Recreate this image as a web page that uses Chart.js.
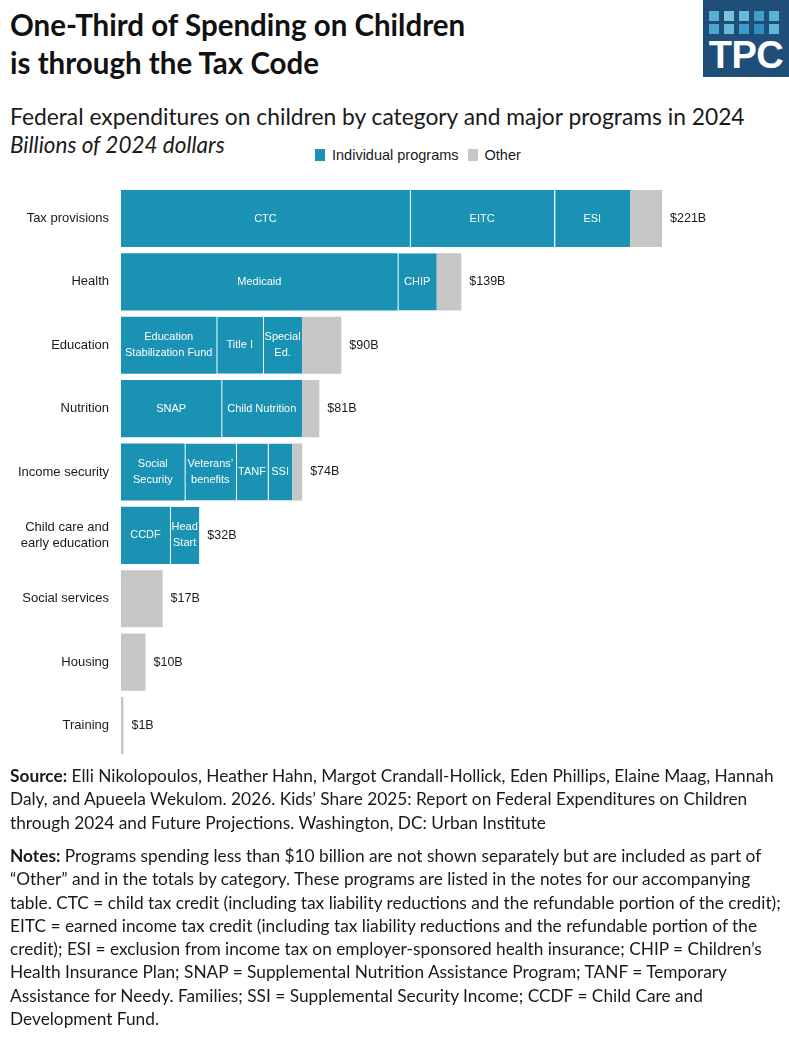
<!DOCTYPE html>
<html>
<head>
<meta charset="utf-8">
<script src="https://cdn.jsdelivr.net/npm/chart.js@4.4.1/dist/chart.umd.min.js"></script>
<style>
  html, body { margin: 0; padding: 0; background: #ffffff; }
  #page { position: relative; width: 789px; height: 1044px; overflow: hidden; font-family: Lato, "Open Sans", sans-serif; color: #1a1a1a; }
  .title { position: absolute; left: 10px; top: 5.6px; font-size: 29.5px; font-weight: 700; line-height: 38px; color: #111; white-space: nowrap; }
  .subtitle { position: absolute; left: 10px; top: 102.6px; font-size: 22.8px; line-height: 27px; white-space: nowrap; }
  .units { position: absolute; left: 10px; top: 131.3px; font-size: 22.5px; font-style: italic; line-height: 27px; white-space: nowrap; }
  .legend { position: absolute; left: 315px; top: 146px; font-family: "Liberation Sans", Arial, sans-serif; font-size: 14.5px; line-height: 18px; white-space: nowrap; }
  .legend span.sw { display: inline-block; width: 10px; height: 12px; vertical-align: -1px; margin-right: 7px; }
  .legend span.gap { display: inline-block; width: 9px; }
  .logo { position: absolute; left: 703px; top: 0; width: 86px; height: 77px; background: #1f4e79; }
  .logo .sq { position: absolute; width: 10px; height: 10px; }
  .logo .txt { position: absolute; left: 0; width: 86px; top: 36px; text-align: center; color: #fff; font-family: "Liberation Sans", Arial, sans-serif; font-weight: 700; font-size: 38px; line-height: 38px; letter-spacing: -0.5px; }
  #chartBox { position: absolute; left: 0; top: 167px; width: 789px; height: 610px; }
  .foot { position: absolute; left: 10px; font-size: 17.3px; line-height: 23.3px; white-space: nowrap; color: #1a1a1a; }
  .foot b { font-weight: 700; }
</style>
</head>
<body>
<div id="page">
  <div class="title">One-Third of Spending on Children<br>is through the Tax Code</div>
  <div class="subtitle">Federal expenditures on children by category and major programs in 2024</div>
  <div class="units">Billions of 2024 dollars</div>
  <div class="legend" id="legend"></div>
  <div class="logo" id="logo"><div class="txt">TPC</div></div>
  <div id="chartBox"><canvas id="chart"></canvas></div>
  <div class="foot" style="top:764px">
    <b>Source:</b> Elli Nikolopoulos, Heather Hahn, Margot Crandall-Hollick, Eden Phillips, Elaine Maag, Hannah<br>
    Daly, and Apueela Wekulom. 2026. Kids’ Share 2025: Report on Federal Expenditures on Children<br>
    through 2024 and Future Projections. Washington, DC: Urban Institute
  </div>
  <div class="foot" style="top:844px">
    <b>Notes:</b> Programs spending less than $10 billion are not shown separately but are included as part of<br>
    “Other” and in the totals by category. These programs are listed in the notes for our accompanying<br>
    table. CTC = child tax credit (including tax liability reductions and the refundable portion of the credit);<br>
    EITC = earned income tax credit (including tax liability reductions and the refundable portion of the<br>
    credit); ESI = exclusion from income tax on employer-sponsored health insurance; CHIP = Children’s<br>
    Health Insurance Plan; SNAP = Supplemental Nutrition Assistance Program; TANF = Temporary<br>
    Assistance for Needy. Families; SSI = Supplemental Security Income; CCDF = Child Care and<br>
    Development Fund.
  </div>
</div>
<script>
const categories = ["Tax provisions", "Health", "Education", "Nutrition", "Income security",
  ["Child care and", "early education"], "Social services", "Housing", "Training"];

const seg1Names = ["CTC", "Medicaid", "Education\nStabilization Fund", "SNAP", "Social\nSecurity", "CCDF", "", "", ""];
const seg1Values = [118, 113, 39, 41, 26, 20, 0, 0, 0];
const seg2Names = ["EITC", "CHIP", "Title I", "Child Nutrition", "Veterans’\nbenefits", "Head\nStart", "", "", ""];
const seg2Values = [59, 16, 19, 33, 21, 12, 0, 0, 0];
const seg3Names = ["ESI", "", "Special\nEd.", "", "TANF", "", "", "", ""];
const seg3Values = [31, 0, 16, 0, 13, 0, 0, 0, 0];
const seg4Names = ["", "", "", "", "SSI", "", "", "", ""];
const seg4Values = [0, 0, 0, 0, 10, 0, 0, 0, 0];
const otherValues = [13, 10, 16, 7, 4, 0, 17, 10, 1];

const legendLabels = ["Individual programs", "Other"];

const PROGRAM_COLOR = "#1a92b4";
const OTHER_COLOR = "#c6c6c6";
const SEPARATOR = "rgba(255,255,255,0.45)";
const CHART_FONT = "\"Liberation Sans\", Arial, sans-serif";

const segNames = [seg1Names, seg2Names, seg3Names, seg4Names];
const totals = categories.map((_, i) =>
  seg1Values[i] + seg2Values[i] + seg3Values[i] + seg4Values[i] + otherValues[i]);

// legend + logo are plain html
document.getElementById("legend").innerHTML =
  `<span class="sw" style="background:${PROGRAM_COLOR}"></span>${legendLabels[0]}<span class="gap"></span>` +
  `<span class="sw" style="background:${OTHER_COLOR}"></span>${legendLabels[1]}`;

const logoColors = [
  ["#5aaed0", "#7cc3dc", "#6ab9d7", "#3f9fc9", "#5cb4d5"],
  ["#4aa8cf", "#66b9d9", "#3a9cc8", "#2f8fc0", "#5fb6d6"]
];
const logo = document.getElementById("logo");
logoColors.forEach((row, r) => row.forEach((c, k) => {
  const d = document.createElement("div");
  d.className = "sq";
  d.style.left = (6 + k * 15) + "px";
  d.style.top = (11 + r * 13) + "px";
  d.style.background = c;
  logo.appendChild(d);
}));

const segmentLabels = {
  id: "segmentLabels",
  afterDatasetsDraw(chart) {
    const ctx = chart.ctx;
    ctx.save();
    ctx.textBaseline = "middle";
    ctx.font = `11px ${CHART_FONT}`;
    ctx.fillStyle = "#ffffff";
    ctx.textAlign = "center";
    segNames.forEach((names, di) => {
      const meta = chart.getDatasetMeta(di);
      meta.data.forEach((bar, i) => {
        const name = names[i];
        if (!name) return;
        const lines = name.split("\n");
        const cx = (bar.x + bar.base) / 2;
        lines.forEach((ln, k) => {
          ctx.fillText(ln, cx, bar.y + (k - (lines.length - 1) / 2) * 16);
        });
      });
    });
    // totals at the bar ends
    ctx.font = `12.5px ${CHART_FONT}`;
    ctx.fillStyle = "#1a1a1a";
    ctx.textAlign = "left";
    const xs = chart.scales.x;
    const ys = chart.scales.y;
    totals.forEach((t, i) => {
      ctx.fillText(`$${t}B`, xs.getPixelForValue(t) + 8, ys.getPixelForValue(i));
    });
    ctx.restore();
  }
};

function programDataset(values, first) {
  return {
    label: legendLabels[0],
    data: values,
    backgroundColor: PROGRAM_COLOR,
    borderColor: SEPARATOR,
    borderWidth: first ? 0 : { left: 1, right: 0, top: 0, bottom: 0 },
    borderSkipped: false
  };
}

new Chart(document.getElementById("chart"), {
  type: "bar",
  data: {
    labels: categories,
    datasets: [
      programDataset(seg1Values, true),
      programDataset(seg2Values, false),
      programDataset(seg3Values, false),
      programDataset(seg4Values, false),
      {
        label: legendLabels[1],
        data: otherValues,
        backgroundColor: OTHER_COLOR,
        borderWidth: 0
      }
    ]
  },
  options: {
    indexAxis: "y",
    responsive: true,
    maintainAspectRatio: false,
    animation: false,
    layout: { padding: { top: 0, bottom: 0, right: 7, left: 0 } },
    datasets: { bar: { categoryPercentage: 1, barPercentage: 0.9 } },
    plugins: {
      legend: { display: false },
      tooltip: { enabled: false }
    },
    scales: {
      x: {
        stacked: true,
        display: false,
        min: 0,
        max: 270
      },
      y: {
        stacked: true,
        grid: { display: false, drawTicks: false },
        border: { display: false },
        afterFit: (scale) => { scale.width = 121; },
        ticks: {
          padding: 12,
          color: "#1a1a1a",
          font: { family: CHART_FONT, size: 13 }
        }
      }
    }
  },
  plugins: [segmentLabels]
});
</script>
</body>
</html>
